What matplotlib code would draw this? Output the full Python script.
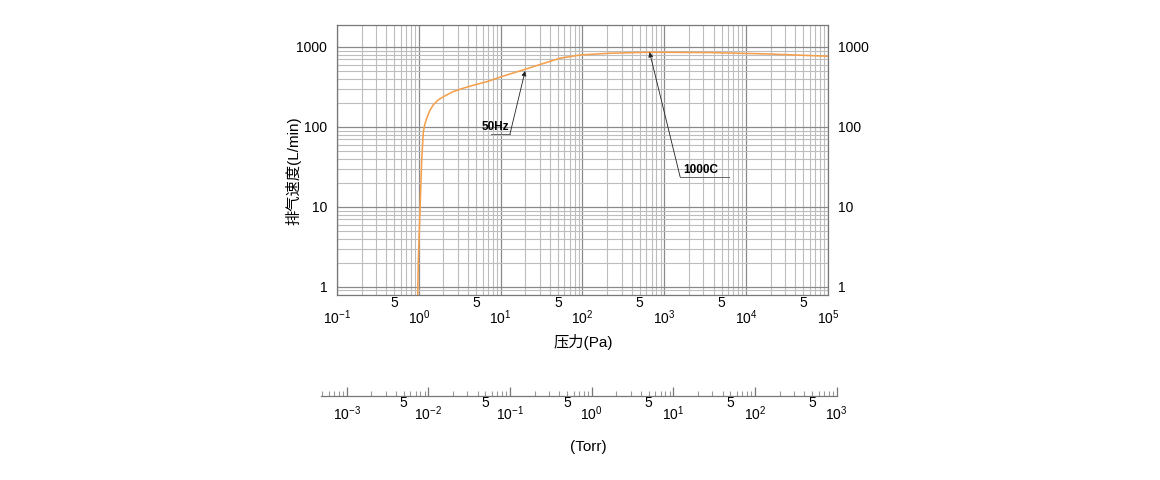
import numpy as np
import matplotlib
matplotlib.use('Agg')
import matplotlib.pyplot as plt
from matplotlib.ticker import LogLocator, FixedLocator, NullFormatter

plt.rcParams['font.family'] = ['Liberation Sans', 'Noto Sans CJK SC', 'DejaVu Sans']
plt.rcParams['mathtext.fontset'] = 'custom'
plt.rcParams['mathtext.rm'] = 'Liberation Sans'
plt.rcParams['mathtext.default'] = 'regular'

# pumping speed curve
pressure_pa = [0.97, 0.986, 1.085, 1.135, 1.19, 1.25, 1.36, 1.5, 1.7, 2.0, 2.6, 3.5, 4.8,
               6.8, 11, 20, 33, 53, 94, 217, 670, 3630, 17900, 100000]
speed_lpm = [0.79, 2.2, 38.7, 87, 110, 128, 160, 188, 215, 239, 275, 305, 335,
             368, 435, 526, 620, 722, 794, 834, 858, 850, 818, 765]

pa_decades = [1e-1, 1e0, 1e1, 1e2, 1e3, 1e4, 1e5]
pa_decade_labels = ['$10^{-1}$', '$10^{0}$', '$10^{1}$', '$10^{2}$', '$10^{3}$', '$10^{4}$', '$10^{5}$']
pa_fives = [5e-1, 5e0, 5e1, 5e2, 5e3, 5e4]
speed_ticks = [1, 10, 100, 1000]
speed_labels = ['1', '10', '100', '1000']

torr_decades = [1e-3, 1e-2, 1e-1, 1e0, 1e1, 1e2, 1e3]
torr_decade_labels = ['$10^{-3}$', '$10^{-2}$', '$10^{-1}$', '$10^{0}$', '$10^{1}$', '$10^{2}$', '$10^{3}$']
torr_fives = [5e-3, 5e-2, 5e-1, 5e0, 5e1, 5e2]

# annotations: label, arrow tip (on curve), arrow tail (at text), underline length factor, text side
notes = [
    ('50Hz', (19.9, 500), (13.0, 81.6), 0.58, 'right'),
    ('1000C', (660, 860), (1560, 23.7), 3.9, 'left'),
]

fig = plt.figure(figsize=(11.6, 4.8), dpi=100)
ax = fig.add_axes([0.2905, 0.3854, 0.4233, 0.5625])

ax.plot(pressure_pa, speed_lpm, color='#f5a04c', lw=1.15, zorder=3)

ax.set_xscale('log')
ax.set_yscale('log')
ax.set_xlim(1e-1, 1e5)
ax.set_ylim(0.79, 1880)

ax.xaxis.set_major_locator(FixedLocator(pa_decades))
ax.set_xticklabels(pa_decade_labels)
ax.xaxis.set_minor_locator(LogLocator(base=10, subs=np.arange(2, 10)))
ax.xaxis.set_minor_formatter(NullFormatter())
ax.yaxis.set_major_locator(FixedLocator(speed_ticks))
ax.set_yticklabels(speed_labels)
ax.yaxis.set_minor_locator(LogLocator(base=10, subs=np.arange(2, 10)))
ax.yaxis.set_minor_formatter(NullFormatter())

ax.grid(which='major', color='#8a8a8a', lw=0.9)
ax.grid(which='minor', color='#bdbdbd', lw=0.8)
ax.tick_params(which='both', length=0)
ax.tick_params(axis='x', labelsize=10, pad=9.5)
ax.tick_params(axis='y', labelsize=10, pad=7, labelright=True)
for s in ax.spines.values():
    s.set_color('#777777')
    s.set_linewidth(0.9)

for v in pa_fives:
    ax.text(v, -0.004, '5', transform=ax.get_xaxis_transform(), ha='center', va='top', fontsize=10)

for label, tip, tail, xend, side in notes:
    ax.annotate('', xy=tip, xytext=tail,
                arrowprops=dict(arrowstyle='-|>', color='#222222', lw=0.6, mutation_scale=7,
                                shrinkA=0, shrinkB=0))
    x0, x1 = sorted([tail[0], tail[0] * xend])
    ax.plot([x0, x1], [tail[1], tail[1]], color='#666666', lw=0.7, zorder=4)
    if side == 'left':
        ax.text(x0 * 1.1, tail[1] * 1.03, label, ha='left', va='bottom',
                fontsize=8.5, fontweight='bold', zorder=5)
    else:
        ax.text(x1 * 0.97, tail[1] * 1.03, label, ha='right', va='bottom',
                fontsize=8.5, fontweight='bold', zorder=5)

fig.text(293 / 1160, 1 - 171 / 480, '排气速度(L/min)', rotation=90, ha='center', va='center', fontsize=11)
fig.text(583 / 1160, 1 - 342 / 480, '压力(Pa)', ha='center', va='center', fontsize=11)

# Torr scale below the chart
ax2 = fig.add_axes([0.2767, 0.175, 0.4446, 0.0001])
ax2.set_xscale('log')
ax2.set_xlim(10 ** -3.315, 1e3)
ax2.set_yticks([])
for k in ['left', 'right', 'top']:
    ax2.spines[k].set_visible(False)
ax2.spines['bottom'].set_color('#777777')
ax2.spines['bottom'].set_linewidth(0.9)
ax2.patch.set_visible(False)
ax2.xaxis.set_major_locator(FixedLocator(torr_decades))
ax2.set_xticklabels(torr_decade_labels)
ax2.xaxis.set_minor_locator(LogLocator(base=10, subs=np.arange(2, 10)))
ax2.xaxis.set_minor_formatter(NullFormatter())
ax2.tick_params(axis='x', which='major', direction='in', length=6.5, width=0.9, color='#777777',
                labelsize=10, pad=6)
ax2.tick_params(axis='x', which='minor', direction='in', length=3.5, width=0.8, color='#999999')
for v in torr_fives:
    ax2.text(v, -1, '5', transform=ax2.get_xaxis_transform(), ha='center', va='top', fontsize=10)

fig.text(588 / 1160, 1 - 447 / 480, '(Torr)', ha='center', va='center', fontsize=11)

fig.savefig('out.png', dpi=100)
